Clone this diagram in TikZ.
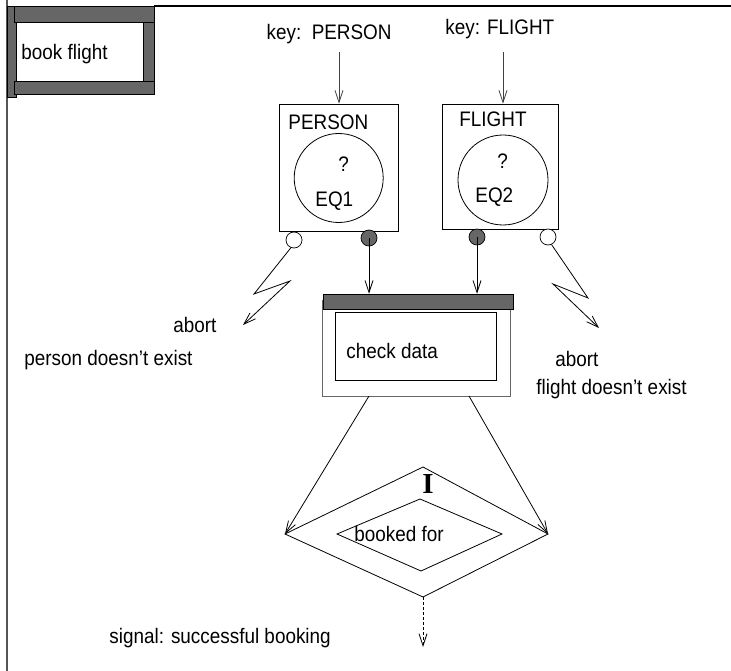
\documentclass[tikz,border=0pt]{standalone}
\usepackage{fontspec}
\setmainfont{Liberation Sans}[FakeStretch=0.9]
\newfontfamily\iserif{Liberation Serif}
\usetikzlibrary{arrows.meta}
\definecolor{bargray}{HTML}{666666}
\definecolor{framegray}{HTML}{555555}
\begin{document}
\begin{tikzpicture}[x=1pt,y=-1pt,
  font=\fontsize{21}{24}\selectfont, line width=0.8pt,
  txt/.style={inner sep=0pt, anchor=base west},
  arr/.style={-{Straight Barb[length=12pt,width=8pt,line width=0.8pt]}},
  bar/.style={fill=bargray, draw=black, line width=0.5pt},
  plainbox/.style={draw, inner sep=0pt},
  smallc/.style={circle, draw, inner sep=0pt, minimum size=16pt, line width=0.7pt},
]
\useasboundingbox (0,0) rectangle (731,671);

% frame
\draw[line width=2pt, draw=framegray] (7,0) -- (7,671);
\draw[line width=1.5pt] (154,6) -- (731,6);

% book flight box
\filldraw[bar] (7,6) rectangle (16,97);
\filldraw[bar] (14,6) rectangle (154,22);
\filldraw[bar] (143,22) rectangle (154,81);
\filldraw[bar] (14,81) rectangle (154,94);
\node[txt] (bf) at (21,60) {book flight};

% keys
\node[inner sep=0pt, anchor=base east] (keyP) at (392,40) {key:\ \ PERSON};
\node[txt] (keyF) at (445,35) {key: FLIGHT};

% PERSON box
\node[plainbox, minimum width=119pt, minimum height=127pt] (boxP) at (338.5,167.5) {};
\node[circle, draw, inner sep=0pt, minimum size=89pt] (cP) at (338.7,178) {};
\node[txt] (tP) at (288,130) {PERSON};
\node[txt] (qP) at (338,172) {?};
\node[txt] (eq1) at (315,207) {EQ1};

% FLIGHT box
\node[plainbox, minimum width=116pt, minimum height=125pt] (boxF) at (500,166.5) {};
\node[circle, draw, inner sep=0pt, minimum size=90pt] (cF) at (503,180) {};
\node[txt] (tF) at (459,127) {FLIGHT};
\node[txt] (qF) at (497,169) {?};
\node[txt] (eq2) at (475,203) {EQ2};

% key arrows
\coordinate (kPs) at (339,52);
\coordinate (kFs) at (503,52);
\draw[arr, draw=black!75] (kPs) -- (kPs |- boxP.north);
\draw[arr, draw=black!75] (kFs) -- (kFs |- boxF.north);

% small circles
\node[smallc, fill=white] (wP) at (294,240) {};
\node[smallc, fill=bargray] (gP) at (369,238) {};
\node[smallc, fill=bargray] (gF) at (477,237) {};
\node[smallc, fill=white] (wF) at (548,237) {};

% check data
\node[draw=black!60, inner sep=0pt, minimum width=188pt, minimum height=96pt] (cdOut) at (416,348) {};
\node[bar, inner sep=0pt, minimum width=190pt, minimum height=15pt] (cdBar) at (418,301.5) {};
\node[plainbox, minimum width=161pt, minimum height=68pt] (cdIn) at (415.5,346) {};
\node[txt] (cdT) at (346,358) {check data};

% arrows into check data
\draw[arr] (gP.center) -- (gP.center |- cdBar.north);
\draw[arr] (gF.center) -- (gF.center |- cdBar.north);

% abort lightnings
\draw[arr] (wP.-112) -- (254,294) -- (290,281) -- (243,325);
\draw[arr] (wF.-65) -- (588,298) -- (553,284) -- (599,328);

\node[txt] (abL) at (173,332) {abort};
\node[txt] (pde) at (24,365) {person doesn't exist};
\node[txt] (abR) at (555,366) {abort};
\node[txt] (fde) at (536,394) {flight doesn't exist};

% diamond
\coordinate (dT) at (423,467);
\coordinate (dL) at (285,534);
\coordinate (dR) at (548,534);
\coordinate (dB) at (423,597);
\draw (dT) -- (dR) -- (dB) -- (dL) -- cycle;
\coordinate (iT) at (420,499);
\coordinate (iL) at (337,534);
\coordinate (iR) at (502,534);
\coordinate (iB) at (421,571);
\draw (iT) -- (iR) -- (iB) -- (iL) -- cycle;
\node[inner sep=0pt, anchor=base, font=\iserif\bfseries\fontsize{29}{30}\selectfont] (rI) at (428,493) {I};
\node[txt] (bk) at (354,541) {booked for};

\coordinate (s1) at (369,396);
\coordinate (s2) at (469,396);
\draw[arr] (s1) -- (dL);
\draw[arr] (s2) -- (dR);

% signal
\coordinate (sigEnd) at (423,647);
\draw[arr, dash pattern=on 3pt off 2pt] (dB) -- (sigEnd);
\node[txt] (sig) at (109,643) {signal: successful booking};
\end{tikzpicture}
\end{document}
